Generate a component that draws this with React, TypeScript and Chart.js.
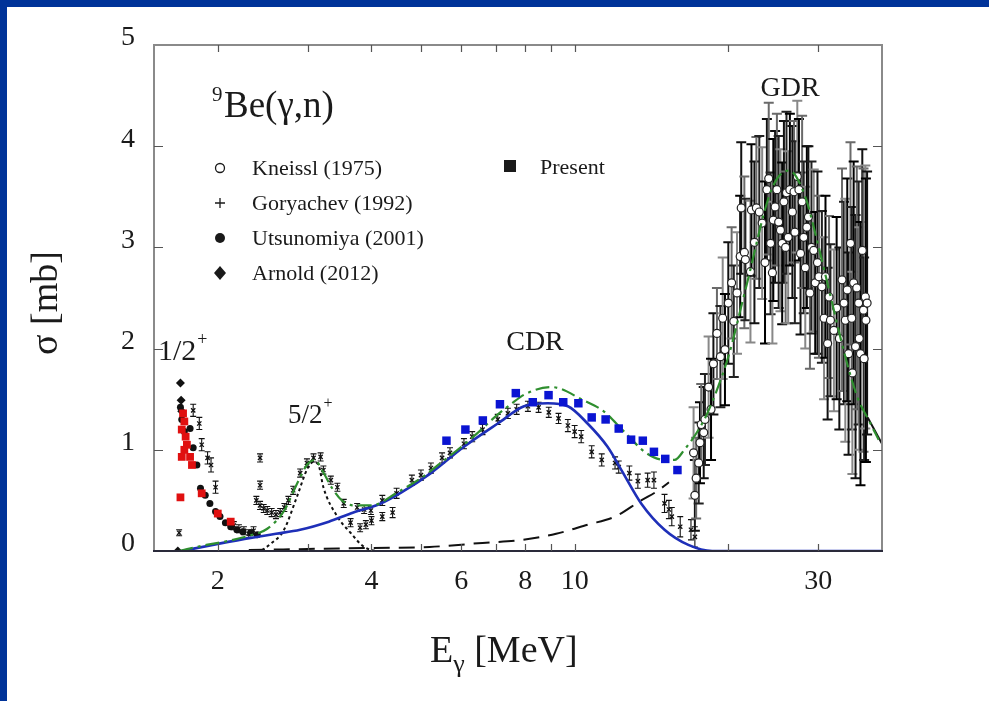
import React, { useEffect, useRef } from "react";
import { Chart, registerables } from "chart.js";
Chart.register(...registerables);

const SERIF = "'Liberation Serif', 'Times New Roman', serif";

// ---- axes ----
const xMin = 1.5;
const xMax = 40;
const yMin = 0;
const yMax = 5;
const xTickValues = [2, 3, 4, 5, 6, 7, 8, 9, 10, 20, 30];
const xTickLabels = [2, 4, 6, 8, 10, 30];
const yTickValues = [1, 2, 3, 4];

// ---- Present (red squares, low energy) ----
const presentRedE = [1.69, 1.70, 1.765, 1.70, 1.71, 1.72, 1.73, 1.74, 1.72, 1.78, 1.86, 2.00, 2.12];
const presentRedS = [0.53, 0.93, 0.93, 1.20, 1.36, 1.28, 1.13, 1.05, 1.00, 0.85, 0.57, 0.37, 0.29];

// ---- Present (blue squares, CDR) ----
const presentBlueE = [5.61, 6.11, 6.61, 7.14, 7.67, 8.28, 8.89, 9.50, 10.17, 10.8, 11.5, 12.2, 12.9, 13.6, 14.3, 15.05, 15.9];
const presentBlueS = [1.09, 1.20, 1.29, 1.45, 1.56, 1.47, 1.54, 1.47, 1.46, 1.32, 1.30, 1.21, 1.10, 1.09, 0.98, 0.91, 0.80];

// ---- Utsunomiya (2001) ----
const utsE = [1.69, 1.70, 1.72, 1.765, 1.79, 1.82, 1.85, 1.89, 1.93, 1.98, 2.02, 2.07, 2.12, 2.18, 2.24, 2.32, 2.39];
const utsS = [1.42, 1.30, 1.18, 1.21, 1.02, 0.85, 0.62, 0.55, 0.47, 0.39, 0.34, 0.28, 0.24, 0.21, 0.19, 0.18, 0.16];

// ---- Arnold (2012) ----
const arnE = [1.67, 1.69, 1.695, 1.70];
const arnS = [0.0, 1.66, 1.49, 1.38];

// ---- Goryachev (1992) ----
const gorE = [1.68, 1.79, 1.84, 1.86, 1.91, 1.94, 1.98, 2.15, 2.2, 2.25, 2.3, 2.35, 2.42, 2.42, 2.38, 2.42, 2.46, 2.5, 2.55, 2.6, 2.65, 2.7, 2.75, 2.81, 2.9, 2.99, 3.08, 3.18, 3.22, 3.33, 3.43, 3.53, 3.64, 3.75, 3.8, 3.87, 3.9, 3.99, 4.0, 4.2, 4.2, 4.4, 4.48, 4.8, 5.0, 5.23, 5.5, 5.7, 6.07, 6.3, 6.6, 7.07, 7.4, 7.7, 8.1, 8.5, 8.9, 9.3, 9.7, 10.0, 10.3, 10.8, 11.3, 12.0, 12.2, 12.8, 13.3, 13.9, 14.3, 15.0, 15.3, 15.5, 16.1, 16.9, 17.2];
const gorS = [0.18, 1.39, 1.26, 1.05, 0.92, 0.85, 0.63, 0.25, 0.22, 0.20, 0.17, 0.20, 0.92, 0.65, 0.50, 0.45, 0.42, 0.40, 0.38, 0.36, 0.38, 0.43, 0.50, 0.60, 0.77, 0.87, 0.92, 0.93, 0.80, 0.70, 0.63, 0.47, 0.28, 0.43, 0.23, 0.41, 0.26, 0.40, 0.30, 0.50, 0.34, 0.38, 0.57, 0.70, 0.75, 0.82, 0.92, 0.97, 1.06, 1.13, 1.20, 1.30, 1.36, 1.40, 1.43, 1.42, 1.37, 1.31, 1.24, 1.18, 1.13, 0.98, 0.90, 0.87, 0.83, 0.77, 0.69, 0.70, 0.70, 0.47, 0.41, 0.34, 0.24, 0.21, 0.14];
const gorErr = [0.03, 0.06, 0.06, 0.06, 0.06, 0.07, 0.06, 0.04, 0.04, 0.04, 0.04, 0.04, 0.04, 0.04, 0.04, 0.04, 0.04, 0.04, 0.04, 0.04, 0.04, 0.04, 0.04, 0.04, 0.04, 0.04, 0.04, 0.04, 0.04, 0.04, 0.04, 0.04, 0.04, 0.04, 0.04, 0.04, 0.04, 0.04, 0.04, 0.05, 0.04, 0.05, 0.05, 0.05, 0.05, 0.05, 0.05, 0.05, 0.05, 0.05, 0.05, 0.05, 0.05, 0.05, 0.05, 0.05, 0.05, 0.05, 0.06, 0.06, 0.06, 0.06, 0.06, 0.06, 0.06, 0.07, 0.07, 0.07, 0.08, 0.09, 0.09, 0.09, 0.1, 0.1, 0.1];

// ---- Kneissl (1975) ----
const kneE = [17.2, 17.3, 17.5, 17.1, 17.6, 17.9, 17.7, 18.0, 18.3, 18.5, 18.7, 19.0, 19.3, 19.5, 19.7, 20.0, 20.3, 20.5, 20.8, 21.1, 21.2, 21.5, 21.6, 22.1, 22.2, 22.5, 22.7, 23.0, 23.3, 23.6, 23.8, 24.0, 24.2, 24.4, 24.5, 24.7, 24.9, 25.1, 25.3, 25.5, 25.7, 25.9, 26.0, 26.2, 26.4, 26.7, 26.9, 27.0, 27.3, 27.5, 27.7, 27.9, 28.1, 28.3, 28.5, 28.7, 28.9, 29.1, 29.4, 29.6, 29.9, 30.1, 30.5, 30.8, 31.0, 31.3, 31.5, 31.7, 32.2, 32.6, 33.0, 33.4, 33.7, 33.9, 34.2, 34.4, 34.7, 34.9, 35.0, 35.2, 35.5, 35.7, 36.0, 36.1, 36.3, 36.6, 36.8, 36.9, 37.1, 37.2, 37.4];
const kneS = [0.55, 0.72, 0.87, 0.97, 1.07, 1.17, 1.25, 1.30, 1.62, 1.40, 1.85, 2.15, 1.92, 2.30, 1.99, 2.45, 2.65, 2.27, 2.55, 2.91, 3.39, 2.95, 2.88, 2.76, 3.37, 3.05, 3.39, 3.35, 3.24, 2.85, 3.57, 3.68, 3.04, 2.75, 3.27, 3.40, 3.57, 3.25, 3.17, 3.04, 3.45, 3.00, 3.54, 3.10, 3.57, 3.35, 3.55, 3.15, 3.70, 3.57, 2.94, 3.45, 3.10, 2.80, 3.20, 3.30, 2.55, 3.00, 2.97, 2.65, 2.85, 2.71, 2.61, 2.30, 2.71, 2.05, 2.51, 2.28, 2.18, 2.40, 2.10, 2.68, 2.45, 2.28, 2.58, 1.95, 3.04, 2.30, 1.76, 2.65, 2.02, 2.60, 2.45, 2.10, 1.95, 2.97, 2.38, 1.90, 2.51, 2.28, 2.45];
const kneErr = [0.35, 0.4, 0.4, 0.45, 0.4, 0.45, 0.4, 0.45, 0.5, 0.5, 0.5, 0.45, 0.5, 0.6, 0.55, 0.6, 0.55, 0.55, 0.6, 0.6, 0.65, 0.75, 0.6, 0.7, 0.65, 0.8, 0.7, 0.75, 0.75, 0.8, 0.7, 0.75, 0.7, 0.7, 0.8, 0.75, 0.75, 0.85, 0.8, 0.8, 0.8, 0.75, 0.8, 0.85, 0.75, 0.85, 0.7, 0.9, 0.75, 0.7, 0.8, 0.85, 0.75, 0.8, 0.8, 0.7, 0.75, 0.85, 0.8, 0.7, 0.9, 0.8, 0.75, 0.8, 0.8, 0.75, 0.8, 0.75, 0.8, 0.9, 0.9, 1.1, 1.0, 1.2, 1.1, 1.0, 1.0, 1.1, 1.0, 1.2, 1.3, 1.2, 1.2, 1.1, 1.3, 1.0, 1.4, 1.0, 1.3, 1.4, 1.3];

// ---- fits ----
const fitE = [1.68, 1.9, 2.1, 2.3, 2.5, 2.7, 2.85, 3.0, 3.1, 3.2, 3.35, 3.5, 3.7, 4.0, 4.5, 5.0, 5.5, 6.0, 6.5, 7.0, 7.5, 8.0, 9.0, 10.4, 11.4, 12.5, 13.8, 15.0, 15.7, 16.4, 17.5, 18.3, 20.0, 21.6, 24.3, 26.3, 28.3, 29.6, 31.5, 33.9, 35.8, 37.7, 39.4];
const fitS = [0.0, 0.06, 0.10, 0.15, 0.22, 0.40, 0.65, 0.86, 0.90, 0.80, 0.62, 0.50, 0.45, 0.45, 0.58, 0.72, 0.88, 1.03, 1.18, 1.33, 1.45, 1.55, 1.62, 1.49, 1.38, 1.18, 0.97, 0.90, 0.90, 1.00, 1.20, 1.39, 1.92, 2.58, 3.57, 3.76, 3.50, 3.14, 2.58, 1.92, 1.52, 1.29, 1.10];

const cdrE = [1.70, 2.0, 2.32, 2.6, 2.9, 3.3, 3.64, 4.17, 4.58, 5.23, 6.07, 7.07, 7.96, 8.86, 9.70, 10.6, 11.6, 12.35, 13.5, 15.0, 16.7, 18.6, 25, 40];
const cdrS = [0.0, 0.07, 0.13, 0.17, 0.21, 0.29, 0.37, 0.47, 0.58, 0.77, 1.03, 1.26, 1.43, 1.46, 1.43, 1.26, 1.03, 0.80, 0.47, 0.21, 0.06, 0.0, 0.0, 0.0];

const tailE = [2.3, 3.0, 4.0, 5.2, 6.6, 7.9, 9.2, 10.6, 12.0, 13.5, 14.6, 15.3];
const tailS = [0.01, 0.02, 0.03, 0.04, 0.08, 0.11, 0.17, 0.26, 0.34, 0.50, 0.60, 0.68];
const tailEndE = [37.5, 40];
const tailEndS = [1.32, 1.06];

const res52E = [1.5, 2.4, 2.55, 2.69, 2.86, 3.0, 3.08, 3.15, 3.22, 3.43, 3.64, 3.87, 4.2, 40];
const res52S = [0, 0, 0.08, 0.2, 0.54, 0.82, 0.88, 0.85, 0.63, 0.34, 0.18, 0.04, 0, 0];

// ---- legend ----
const legendLabels = ["Kneissl (1975)", "Goryachev (1992)", "Utsunomiya (2001)", "Arnold (2012)"];

const pts = (xs: number[], ys: number[]) => xs.map((x, i) => ({ x, y: ys[i] }));

function drawText(ctx: CanvasRenderingContext2D, s: string, x: number, y: number, size: number, align: CanvasTextAlign = "left") {
  ctx.font = `${size}px ${SERIF}`;
  ctx.textAlign = align;
  ctx.fillText(s, x, y);
  return ctx.measureText(s).width;
}

const customPlugin = {
  id: "custom",
  beforeDatasetDraw(chart: any, args: any) {
    const ds = chart.data.datasets[args.index];
    if (!ds.errors) return;
    const ctx: CanvasRenderingContext2D = chart.ctx;
    const ys = chart.scales.y;
    const a = chart.chartArea;
    ctx.save();
    ctx.beginPath();
    ctx.rect(a.left, a.top, a.right - a.left, a.bottom - a.top);
    ctx.clip();
    ctx.lineWidth = ds.errorWidth;
    const cap = ds.errorCap;
    args.meta.data.forEach((pt: any, i: number) => {
      const e = ds.errors[i];
      const v = ds.data[i].y;
      const x = pt.x;
      const y1 = ys.getPixelForValue(v - e);
      const y2 = ys.getPixelForValue(v + e);
      ctx.strokeStyle = Array.isArray(ds.errorColor) ? ds.errorColor[i % ds.errorColor.length] : ds.errorColor;
      ctx.beginPath();
      ctx.moveTo(x, y1);
      ctx.lineTo(x, y2);
      ctx.moveTo(x - cap, y1);
      ctx.lineTo(x + cap, y1);
      ctx.moveTo(x - cap, y2);
      ctx.lineTo(x + cap, y2);
      ctx.stroke();
    });
    ctx.restore();
  },
  afterDatasetsDraw(chart: any) {
    const ctx: CanvasRenderingContext2D = chart.ctx;
    const a = chart.chartArea;
    const xs = chart.scales.x;
    const ys = chart.scales.y;
    ctx.save();
    ctx.lineWidth = 2;
    ctx.strokeStyle = "#8a8a8a";
    ctx.beginPath();
    ctx.moveTo(a.left, a.bottom);
    ctx.lineTo(a.left, a.top);
    ctx.lineTo(a.right, a.top);
    ctx.lineTo(a.right, a.bottom);
    ctx.stroke();
    ctx.strokeStyle = "#2a2a3a";
    ctx.beginPath();
    ctx.moveTo(a.left - 1, a.bottom);
    ctx.lineTo(a.right + 1, a.bottom);
    ctx.stroke();
    ctx.lineWidth = 1.2;
    ctx.strokeStyle = "#555";
    ctx.beginPath();
    xTickValues.forEach((v) => {
      const px = Math.round(xs.getPixelForValue(v)) + 0.5;
      ctx.moveTo(px, a.bottom);
      ctx.lineTo(px, a.bottom - 7);
      ctx.moveTo(px, a.top);
      ctx.lineTo(px, a.top + 7);
    });
    yTickValues.forEach((v) => {
      const py = Math.round(ys.getPixelForValue(v)) + 0.5;
      ctx.moveTo(a.left, py);
      ctx.lineTo(a.left + 9, py);
      ctx.moveTo(a.right, py);
      ctx.lineTo(a.right - 9, py);
    });
    ctx.stroke();
    ctx.restore();
  },
  afterDraw(chart: any) {
    const ctx: CanvasRenderingContext2D = chart.ctx;
    ctx.save();
    ctx.fillStyle = "#1a1a1a";
    ctx.textBaseline = "alphabetic";
    // title
    drawText(ctx, "9", 212, 101, 21);
    drawText(ctx, "Be(\u03b3,n)", 224, 117, 37);
    // annotations
    let w = drawText(ctx, "1/2", 158, 360, 30);
    drawText(ctx, "+", 158 + w + 1, 345, 18);
    w = drawText(ctx, "5/2", 288, 423, 27);
    drawText(ctx, "+", 288 + w + 1, 408, 16);
    drawText(ctx, "CDR", 535, 350, 28, "center");
    drawText(ctx, "GDR", 790, 96, 28, "center");
    // legend
    legendLabels.forEach((t, i) => drawText(ctx, t, 252, 175 + 35 * i, 22));
    drawText(ctx, "Present", 540, 174, 22);
    const mx = 220;
    ctx.strokeStyle = "#1a1a1a";
    ctx.lineWidth = 1.3;
    ctx.beginPath();
    ctx.arc(mx, 168, 4.5, 0, Math.PI * 2);
    ctx.stroke();
    ctx.beginPath();
    ctx.moveTo(mx - 5, 203);
    ctx.lineTo(mx + 5, 203);
    ctx.moveTo(mx, 198);
    ctx.lineTo(mx, 208);
    ctx.stroke();
    ctx.beginPath();
    ctx.arc(mx, 238, 5, 0, Math.PI * 2);
    ctx.fill();
    ctx.beginPath();
    ctx.moveTo(mx, 266);
    ctx.lineTo(mx + 6, 273);
    ctx.lineTo(mx, 280);
    ctx.lineTo(mx - 6, 273);
    ctx.closePath();
    ctx.fill();
    ctx.fillRect(504, 160, 12, 12);
    // axis titles
    ctx.save();
    ctx.translate(47, 303);
    ctx.rotate(-Math.PI / 2);
    ctx.textBaseline = "middle";
    drawText(ctx, "\u03c3 [mb]", 0, 0, 38, "center");
    ctx.restore();
    let x = 430;
    x += drawText(ctx, "E", x, 662, 38);
    x += drawText(ctx, "\u03b3", x, 672, 26);
    drawText(ctx, " [MeV]", x, 662, 38);
    ctx.restore();
  },
};

export default function App() {
  const ref = useRef<HTMLCanvasElement>(null);
  useEffect(() => {
    const canvas = ref.current!;
    const line = (label: string, xs: number[], ys: number[], color: string, width: number, dash: number[]) => ({
      label,
      data: pts(xs, ys),
      showLine: true,
      pointRadius: 0,
      borderColor: color,
      borderWidth: width,
      borderDash: dash,
      cubicInterpolationMode: "monotone",
      fill: false,
    });
    const chart = new Chart(canvas, {
      type: "scatter",
      data: {
        datasets: [
          { label: "Present", data: pts(presentRedE, presentRedS), pointStyle: "rect", pointRadius: 5.5, backgroundColor: "#e01010", borderColor: "#e01010", borderWidth: 0 },
          { label: "Present CDR", data: pts(presentBlueE, presentBlueS), pointStyle: "rect", pointRadius: 6, backgroundColor: "#0a14d2", borderColor: "#0a14d2", borderWidth: 0 },
          line("fit", fitE, fitS, "#2f8f2f", 2.2, [14, 5, 3, 5]),
          line("CDR", cdrE, cdrS, "#1e2fb8", 2.6, []),
          line("tail", tailE, tailS, "#111", 2, [16, 9]),
          line("tailEnd", tailEndE, tailEndS, "#111", 2, []),
          line("5/2+", res52E, res52S, "#111", 2, [3, 3]),
          { label: "Arnold (2012)", data: pts(arnE, arnS), pointStyle: "rectRot", pointRadius: 4.5, backgroundColor: "#111", borderColor: "#111", borderWidth: 0 },
          { label: "Utsunomiya (2001)", data: pts(utsE, utsS), pointStyle: "circle", pointRadius: 3.5, backgroundColor: "#111", borderColor: "#111", borderWidth: 0 },
          { label: "Kneissl (1975)", data: pts(kneE, kneS), pointStyle: "circle", pointRadius: 4, backgroundColor: "#fff", borderColor: "#222", borderWidth: 1.2, errors: kneErr, errorColor: ["#111", "#6a6a6a", "#222", "#888", "#000"], errorWidth: 2, errorCap: 5 } as any,
          { label: "Goryachev (1992)", data: pts(gorE, gorS), pointStyle: "crossRot", pointRadius: 3, backgroundColor: "#111", borderColor: "#111", borderWidth: 1.3, errors: gorErr, errorColor: "#111", errorWidth: 1.1, errorCap: 3 } as any,
        ] as any,
      },
      options: {
        responsive: false,
        animation: false,
        layout: { padding: { left: 0, top: 45, right: 107, bottom: 0 } },
        plugins: { legend: { display: false }, tooltip: { enabled: false } },
        scales: {
          x: {
            type: "logarithmic",
            min: xMin,
            max: xMax,
            grid: { display: false, drawTicks: false },
            border: { display: false },
            afterBuildTicks: (scale: any) => {
              scale.ticks = xTickValues.map((v) => ({ value: v }));
            },
            afterFit: (scale: any) => {
              scale.height = 150;
            },
            ticks: {
              autoSkip: false,
              maxRotation: 0,
              padding: 14,
              color: "#1a1a1a",
              font: { family: SERIF, size: 28 },
              callback: (v: any) => (xTickLabels.includes(Number(v)) ? String(v) : ""),
            },
          },
          y: {
            type: "linear",
            min: yMin,
            max: yMax,
            grid: { display: false, drawTicks: false },
            border: { display: false },
            afterFit: (scale: any) => {
              scale.width = 154;
            },
            ticks: {
              stepSize: 1,
              padding: 19,
              labelOffset: -7,
              color: "#1a1a1a",
              font: { family: SERIF, size: 28 },
            },
          },
        },
      },
      plugins: [customPlugin],
    } as any);
    return () => chart.destroy();
  }, []);
  return (
    <div style={{ position: "fixed", left: 0, top: 0, width: 989, height: 701, background: "#fff", overflow: "hidden" }}>
      <canvas ref={ref} width={989} height={701} style={{ position: "absolute", left: 0, top: 0, width: 989, height: 701 }} />
      <div style={{ position: "absolute", left: 0, top: 0, width: 989, height: 7, background: "#003399" }} />
      <div style={{ position: "absolute", left: 0, top: 0, width: 7, height: 701, background: "#003399" }} />
    </div>
  );
}
